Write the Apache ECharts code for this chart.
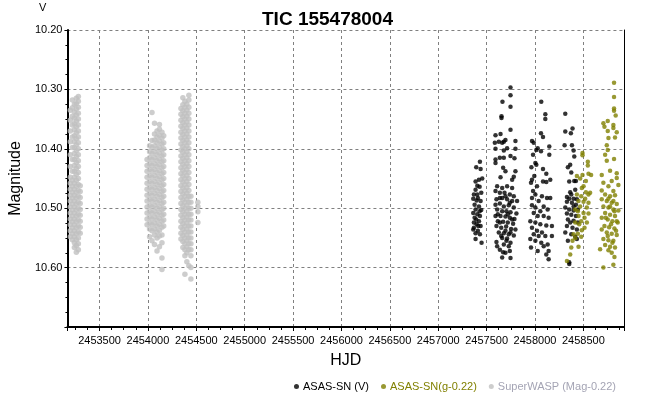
<!DOCTYPE html>
<html><head><meta charset="utf-8">
<script src="https://cdn.jsdelivr.net/npm/echarts@6/dist/echarts.min.js"></script>
<style>html,body{margin:0;padding:0;background:#fff}#c{width:655px;height:394px}</style>
</head><body><div id="c"></div>
<script>
const chartTitle = 'TIC 155478004';
const unitLabel = 'V';
const xName = 'HJD';
const yName = 'Magnitude';
const seriesNames = ['ASAS-SN (V)', 'ASAS-SN(g-0.22)', 'SuperWASP (Mag-0.22)'];
const xRange = [2453168, 2458920];
const yRange = [10.2, 10.7];

// SuperWASP: nights (HJD) and magnitudes observed on each
const swHJD = [2453198, 2453219, 2453240, 2453260, 2453281, 2453300,
  2453991, 2454017, 2454042, 2454068, 2454094, 2454119, 2454145, 2454163,
  2454341, 2454361, 2454382, 2454402, 2454423, 2454444, 2454516];
const swMag = [
  [10.335,10.352,10.37,10.388,10.41,10.43,10.448,10.458,10.468,10.478,10.488,10.498,10.508,10.518,10.528,10.538,10.548],
  [10.318,10.331,10.345,10.36,10.38,10.398,10.418,10.438,10.453,10.463,10.473,10.483,10.493,10.503,10.513,10.523,10.533,10.543,10.553],
  [10.325,10.338,10.348,10.358,10.368,10.378,10.388,10.398,10.408,10.418,10.428,10.438,10.448,10.458,10.468,10.478,10.488,10.498,10.508,10.518,10.528,10.538,10.548,10.558,10.566],
  [10.315,10.324,10.333,10.343,10.353,10.363,10.373,10.383,10.393,10.403,10.413,10.423,10.433,10.443,10.453,10.463,10.473,10.483,10.493,10.503,10.513,10.523,10.533,10.543,10.553,10.563,10.574],
  [10.312,10.32,10.33,10.34,10.35,10.36,10.37,10.38,10.39,10.40,10.41,10.42,10.43,10.44,10.45,10.46,10.47,10.48,10.49,10.50,10.51,10.52,10.53,10.54,10.55,10.56,10.57],
  [10.462,10.472,10.482,10.492,10.502,10.512,10.522,10.532,10.542],
  [10.418,10.428,10.438,10.448,10.458,10.468,10.478,10.488,10.498,10.508,10.518,10.528],
  [10.395,10.405,10.415,10.425,10.435,10.445,10.455,10.465,10.475,10.485,10.495,10.505,10.515,10.525,10.535,10.548],
  [10.339,10.386,10.398,10.408,10.418,10.428,10.438,10.448,10.458,10.468,10.478,10.488,10.498,10.508,10.518,10.528,10.538,10.555],
  [10.357,10.375,10.385,10.395,10.405,10.415,10.425,10.435,10.445,10.455,10.465,10.475,10.485,10.495,10.505,10.515,10.525,10.535,10.545,10.561],
  [10.37,10.38,10.39,10.40,10.41,10.42,10.43,10.44,10.45,10.46,10.47,10.48,10.49,10.50,10.51,10.52,10.53,10.54,10.55,10.572],
  [10.359,10.367,10.377,10.387,10.397,10.407,10.417,10.427,10.437,10.447,10.457,10.467,10.477,10.487,10.497,10.507,10.517,10.527,10.537,10.547,10.565],
  [10.372,10.382,10.392,10.402,10.412,10.422,10.432,10.442,10.452,10.462,10.472,10.482,10.492,10.502,10.512,10.522,10.532,10.545,10.558,10.584,10.603],
  [10.378,10.39,10.40,10.41,10.42,10.43,10.44,10.45,10.46,10.47,10.48,10.49,10.50,10.51,10.52,10.53],
  [10.332,10.342,10.352,10.362,10.372,10.382,10.392,10.402,10.412,10.422,10.432,10.442,10.452,10.462,10.472,10.482,10.492,10.502,10.512,10.522,10.532,10.542,10.552],
  [10.314,10.326,10.336,10.346,10.356,10.366,10.376,10.386,10.396,10.406,10.416,10.426,10.436,10.446,10.456,10.466,10.476,10.486,10.496,10.506,10.516,10.526,10.536,10.546,10.556,10.566],
  [10.32,10.33,10.34,10.35,10.36,10.37,10.38,10.39,10.40,10.41,10.42,10.43,10.44,10.45,10.46,10.47,10.48,10.49,10.50,10.51,10.52,10.53,10.54,10.55,10.56,10.57,10.58,10.611],
  [10.325,10.335,10.345,10.355,10.365,10.375,10.385,10.395,10.405,10.415,10.425,10.435,10.445,10.455,10.465,10.475,10.485,10.495,10.505,10.515,10.525,10.535,10.545,10.555,10.565,10.575,10.59],
  [10.31,10.318,10.33,10.34,10.35,10.36,10.37,10.38,10.39,10.40,10.41,10.42,10.43,10.44,10.45,10.46,10.47,10.48,10.49,10.50,10.51,10.52,10.53,10.54,10.55,10.56,10.57,10.597],
  [10.48,10.49,10.50,10.51,10.52,10.53,10.54,10.55,10.56,10.57,10.58,10.60,10.619],
  [10.49,10.497,10.506,10.524]
];

// ASAS-SN V band [HJD, mag]
const asasV = [
  [2457393,10.431],[2457431,10.422],[2457438,10.434],[2457421,10.452],[2457386,10.455],[2457455,10.450],
  [2457404,10.462],[2457428,10.464],[2457386,10.469],[2457445,10.474],[2457369,10.477],[2457410,10.483],
  [2457362,10.484],[2457397,10.487],[2457438,10.488],[2457376,10.494],[2457421,10.497],[2457386,10.502],
  [2457445,10.503],[2457362,10.508],[2457404,10.510],[2457431,10.513],[2457376,10.516],[2457421,10.522],
  [2457369,10.524],[2457397,10.527],[2457438,10.530],[2457362,10.536],[2457410,10.538],[2457386,10.542],
  [2457431,10.544],[2457386,10.552],[2457448,10.558],[2457369,10.533],[2457404,10.477],[2457428,10.505],
  [2457393,10.519],[2457414,10.530],
  [2457747,10.297],[2457747,10.310],[2457664,10.321],[2457747,10.329],[2457654,10.345],[2457654,10.348],
  [2457747,10.368],[2457592,10.377],[2457644,10.375],[2457678,10.388],[2457585,10.390],[2457626,10.388],
  [2457661,10.390],[2457695,10.385],[2457798,10.387],[2457592,10.400],[2457678,10.403],[2457712,10.399],
  [2457798,10.400],[2457637,10.415],[2457678,10.415],[2457747,10.412],[2457788,10.416],[2457592,10.418],
  [2457592,10.424],[2457671,10.432],[2457695,10.438],[2457798,10.438],[2457781,10.447],[2457644,10.448],
  [2457764,10.452],[2457609,10.463],[2457661,10.466],[2457712,10.463],[2457764,10.466],[2457592,10.471],
  [2457637,10.474],[2457685,10.474],[2457740,10.477],[2457781,10.480],[2457602,10.485],[2457661,10.483],
  [2457712,10.485],[2457764,10.488],[2457815,10.488],[2457592,10.494],[2457637,10.492],[2457678,10.497],
  [2457729,10.495],[2457781,10.499],[2457609,10.502],[2457661,10.505],[2457705,10.505],[2457747,10.507],
  [2457808,10.509],[2457592,10.513],[2457644,10.513],[2457695,10.514],[2457740,10.516],[2457788,10.518],
  [2457616,10.522],[2457671,10.523],[2457719,10.524],[2457774,10.526],[2457602,10.530],[2457651,10.533],
  [2457702,10.531],[2457753,10.535],[2457798,10.536],[2457626,10.541],[2457678,10.542],[2457729,10.544],
  [2457781,10.546],[2457602,10.557],[2457661,10.550],[2457712,10.551],[2457747,10.558],[2457678,10.561],
  [2457637,10.570],[2457671,10.574],[2457740,10.572],[2457661,10.583],[2457747,10.584],
  [2457637,10.483],[2457695,10.480],[2457740,10.491],[2457616,10.510],[2457719,10.510],[2457764,10.519],
  [2457637,10.524],[2457695,10.538],[2457747,10.541],[2457651,10.547],[2457705,10.555],[2457609,10.564],
  [2457729,10.564],[2457695,10.575],
  [2458065,10.321],[2458107,10.342],[2458107,10.350],[2458062,10.374],[2458083,10.380],[2457969,10.387],
  [2457987,10.390],[2458028,10.399],[2458062,10.404],[2458014,10.402],[2458148,10.396],[2458148,10.410],
  [2457980,10.410],[2458004,10.424],[2457963,10.431],[2458014,10.427],[2458083,10.434],[2458117,10.442],
  [2458158,10.452],[2458083,10.455],[2458117,10.456],[2457993,10.446],[2457969,10.452],[2457959,10.457],
  [2458021,10.463],[2457980,10.471],[2457969,10.483],[2458004,10.477],[2458072,10.480],[2458124,10.483],
  [2458158,10.483],[2458038,10.488],[2457969,10.495],[2458004,10.499],[2458090,10.497],[2458055,10.505],
  [2458131,10.502],[2457987,10.508],[2458028,10.513],[2458090,10.513],[2458141,10.516],[2457952,10.522],
  [2458004,10.524],[2458055,10.527],[2458117,10.529],[2458175,10.530],[2457969,10.533],[2458021,10.538],
  [2458072,10.541],[2457987,10.544],[2458038,10.547],[2458107,10.547],[2458175,10.547],[2457952,10.552],
  [2458004,10.555],[2458065,10.558],[2458131,10.561],[2457959,10.566],[2458090,10.564],[2458141,10.572],
  [2458117,10.578],[2458141,10.586],[2458028,10.572],
  [2458313,10.341],[2458313,10.371],[2458371,10.374],[2458388,10.366],[2458306,10.394],[2458382,10.394],
  [2458399,10.403],[2458406,10.413],[2458364,10.427],[2458340,10.431],[2458375,10.440],[2458354,10.455],
  [2458406,10.454],[2458423,10.454],[2458416,10.469],[2458364,10.473],[2458330,10.481],[2458354,10.484],
  [2458399,10.484],[2458433,10.485],[2458330,10.489],[2458382,10.491],[2458423,10.494],[2458313,10.499],
  [2458354,10.502],[2458399,10.504],[2458443,10.502],[2458330,10.509],[2458375,10.511],[2458423,10.513],
  [2458340,10.519],[2458399,10.521],[2458364,10.524],[2458443,10.524],[2458330,10.530],[2458388,10.533],
  [2458433,10.536],[2458313,10.541],[2458375,10.544],[2458416,10.548],[2458433,10.552],[2458340,10.555],
  [2458354,10.594],[2458354,10.591],[2458399,10.497],[2458375,10.477]
];

// ASAS-SN g band, shifted by -0.22 [HJD, mag]
const asasG = [
  [2458491,10.407],[2458491,10.411],[2458546,10.422],[2458546,10.428],[2458491,10.444],[2458553,10.442],
  [2458580,10.444],[2458433,10.446],[2458467,10.450],[2458526,10.454],[2458502,10.463],[2458484,10.466],
  [2458570,10.474],[2458553,10.477],[2458478,10.480],[2458519,10.484],[2458450,10.488],[2458502,10.489],
  [2458553,10.491],[2458467,10.497],[2458536,10.499],[2458443,10.505],[2458502,10.508],[2458553,10.509],
  [2458450,10.513],[2458512,10.516],[2458478,10.522],[2458536,10.524],[2458457,10.527],[2458512,10.533],
  [2458484,10.537],[2458443,10.543],[2458416,10.550],[2458478,10.548],[2458388,10.555],[2458450,10.565],
  [2458375,10.566],[2458364,10.578],[2458330,10.589],[2458416,10.502],[2458526,10.473],[2458433,10.477],
  [2458399,10.544],[2458416,10.524],
  [2458817,10.289],[2458817,10.313],[2458817,10.332],[2458817,10.336],[2458834,10.344],[2458752,10.353],
  [2458707,10.357],[2458718,10.363],[2458810,10.360],[2458810,10.365],[2458752,10.370],[2458845,10.372],
  [2458759,10.382],[2458827,10.381],[2458742,10.394],[2458752,10.402],[2458725,10.410],[2458742,10.420],
  [2458817,10.417],[2458776,10.437],[2458845,10.441],[2458690,10.444],[2458845,10.449],[2458793,10.454],
  [2458707,10.457],[2458862,10.461],[2458759,10.463],[2458690,10.470],[2458810,10.471],[2458725,10.477],
  [2458776,10.480],[2458827,10.478],[2458690,10.485],[2458742,10.488],[2458793,10.491],[2458845,10.493],
  [2458707,10.497],[2458759,10.499],[2458810,10.502],[2458862,10.504],[2458725,10.508],[2458776,10.511],
  [2458827,10.513],[2458690,10.516],[2458752,10.519],[2458800,10.522],[2458855,10.524],[2458718,10.530],
  [2458766,10.532],[2458821,10.534],[2458690,10.536],[2458742,10.541],[2458793,10.543],[2458845,10.545],
  [2458707,10.552],[2458759,10.554],[2458810,10.555],[2458725,10.562],[2458776,10.565],[2458827,10.566],
  [2458673,10.569],[2458793,10.575],[2458821,10.582],[2458759,10.571],[2458810,10.595],[2458707,10.600],
  [2458776,10.497],[2458821,10.505],[2458732,10.516],[2458786,10.527],[2458838,10.538],[2458752,10.547],
  [2458800,10.558],[2458845,10.522],[2458810,10.488],[2458759,10.484]
];

const swData = [];
swHJD.forEach((h, i) => swMag[i].forEach(m => swData.push([h, m])));

const FONT = 'Liberation Sans';
const chart = echarts.init(document.getElementById('c'), null, {renderer: 'canvas'});
chart.setOption({
  animation: false,
  backgroundColor: '#ffffff',
  title: {
    text: chartTitle, left: 'center', top: 5,
    textStyle: {fontFamily: FONT, fontSize: 19, fontWeight: 'bold', color: '#000'}
  },
  graphic: [{
    type: 'text', left: 39, top: 2,
    style: {text: unitLabel, font: '11px "Liberation Sans"', fill: '#000'}
  }],
  legend: {
    right: 34, top: 376, itemWidth: 5, itemHeight: 5, itemGap: 12, icon: 'circle',
    textStyle: {fontFamily: FONT, fontSize: 11, padding: [0, 0, 0, -1]},
    data: [
      {name: seriesNames[0], textStyle: {color: '#000000'}},
      {name: seriesNames[1], textStyle: {color: '#808000'}},
      {name: seriesNames[2], textStyle: {color: '#a4a4b4'}}
    ]
  },
  grid: {left: 65, right: 31, top: 30, bottom: 67},
  xAxis: {
    type: 'value', min: xRange[0], max: xRange[1], splitNumber: 11,
    name: xName, nameLocation: 'middle', nameGap: 26,
    nameTextStyle: {fontFamily: FONT, fontSize: 16, color: '#000'},
    axisLine: {show: true, lineStyle: {color: '#000', width: 2}},
    axisTick: {show: true, length: 4, lineStyle: {color: '#000'}},
    minorTick: {show: true, splitNumber: 4, length: 3, lineStyle: {color: '#000'}},
    axisLabel: {fontFamily: FONT, fontSize: 11, color: '#000', showMinLabel: false, showMaxLabel: false, margin: 8,
      formatter: v => String(v)},
    splitLine: {show: true, lineStyle: {color: '#808080', type: [3, 3], width: 1}}
  },
  yAxis: [{
    type: 'value', inverse: true, min: yRange[0], max: yRange[1], interval: 0.1,
    name: yName, nameLocation: 'middle', nameGap: 40, nameRotate: 90,
    nameTextStyle: {fontFamily: FONT, fontSize: 16, color: '#000'},
    axisLine: {show: true, lineStyle: {color: '#000', width: 2}},
    axisTick: {show: true, length: 3, lineStyle: {color: '#000'}},
    minorTick: {show: true, splitNumber: 4, length: 2, lineStyle: {color: '#000'}},
    axisLabel: {fontFamily: FONT, fontSize: 11, color: '#000', showMaxLabel: false, margin: 5,
      formatter: v => v.toFixed(2)},
    splitLine: {show: true, lineStyle: {color: '#808080', type: [3, 3], width: 1}}
  }, {
    type: 'value', inverse: true, min: yRange[0], max: yRange[1], position: 'right',
    axisLine: {show: true, onZero: false, lineStyle: {color: '#000', width: 1}},
    axisTick: {show: false}, axisLabel: {show: false}, splitLine: {show: false}
  }],
  series: [
    {name: seriesNames[0], type: 'scatter', data: asasV, symbolSize: 4.5, itemStyle: {color: '#000000'}},
    {name: seriesNames[1], type: 'scatter', data: asasG, symbolSize: 4.5, itemStyle: {color: '#808000'}},
    {name: seriesNames[2], type: 'scatter', data: swData, symbolSize: 5.5, itemStyle: {color: '#c0c0c0'}}
  ]
});
</script></body></html>
